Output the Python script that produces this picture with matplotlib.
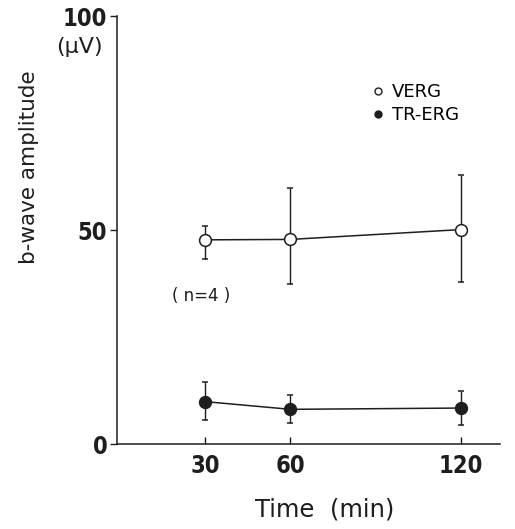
import matplotlib
matplotlib.use("Agg")
import matplotlib.pyplot as plt
from matplotlib import font_manager
from matplotlib.lines import Line2D

# data
time_min = [30, 60, 120]
verg_mean = [47.7, 47.8, 50.1]
verg_hi = [50.9, 59.7, 62.8]
verg_lo = [43.2, 37.5, 37.9]
trerg_mean = [9.9, 8.1, 8.4]
trerg_hi = [14.6, 11.4, 12.4]
trerg_lo = [5.6, 4.8, 4.4]

x_ticks = [30, 60, 120]
y_ticks = [0, 50, 100]

# narrow bold face for the numbers, if one is around
narrow = [f for f in font_manager.fontManager.ttflist
          if "narrow" in f.name.lower() or "condensed" in f.fname.lower()]
if narrow:
    bold = [f for f in narrow if "bold" in f.fname.lower()] or narrow
    TICK_PROP = font_manager.FontProperties(fname=bold[0].fname, size=17)
else:
    TICK_PROP = font_manager.FontProperties(family="DejaVu Sans", weight="bold", size=17)
INK = "#1e1e1e"

fig = plt.figure(figsize=(5.15, 5.29), dpi=100)
ax = fig.add_axes([117 / 515, 85 / 529, 383 / 515, 428 / 529])


def errs(mean, lo, hi):
    return [[m - l for m, l in zip(mean, lo)], [h - m for m, h in zip(mean, hi)]]


ax.errorbar(time_min, verg_mean, yerr=errs(verg_mean, verg_lo, verg_hi),
            color=INK, lw=1.1, elinewidth=1.0, capsize=2.5, capthick=1.0,
            marker="o", ms=8.5, mfc="white", mec=INK, mew=1.1, zorder=3)
ax.errorbar(time_min, trerg_mean, yerr=errs(trerg_mean, trerg_lo, trerg_hi),
            color=INK, lw=1.1, elinewidth=1.0, capsize=2.5, capthick=1.0,
            marker="o", ms=8.5, mfc=INK, mec=INK, mew=1.1, zorder=3)

ax.set_xlim(-1, 133.7)
ax.set_ylim(0, 100)
ax.spines["top"].set_visible(False)
ax.spines["right"].set_visible(False)
for s in ("left", "bottom"):
    ax.spines[s].set_linewidth(1.1)
    ax.spines[s].set_color(INK)

ax.set_xticks(x_ticks)
ax.set_yticks(y_ticks)
ax.set_xticklabels([str(t) for t in x_ticks], fontproperties=TICK_PROP)
ax.set_yticklabels([str(t) for t in y_ticks], fontproperties=TICK_PROP)
ax.tick_params(axis="x", direction="in", length=5, width=1.0, pad=7, colors=INK)
ax.tick_params(axis="y", direction="out", length=5, width=1.0, pad=2, colors=INK)

fig.text(325 / 515, 1 - 510 / 529, "Time  (min)", fontsize=17.5, ha="center", va="center", color=INK)
ax.set_ylabel("b-wave amplitude", fontsize=15.5, color=INK)
ax.yaxis.set_label_coords(-0.204, 0.647)

fig.text(79 / 515, 1 - 47 / 529, "(\u03bcV)", fontsize=16, ha="center", va="center", color=INK)
fig.text(172 / 515, 1 - 296 / 529, "( n=4 )", fontsize=12, va="center", color=INK)

handles = [
    Line2D([], [], ls="none", marker="o", ms=5, mfc="white", mec=INK, mew=1.0, label="VERG"),
    Line2D([], [], ls="none", marker="o", ms=5, mfc=INK, mec=INK, label="TR-ERG"),
]
ax.legend(handles=handles, loc="upper left", bbox_to_anchor=((373 - 117) / 383, (529 - 83 - 85) / 428),
          frameon=False, fontsize=13, handlelength=0.6, handletextpad=0.45,
          labelspacing=0.3, borderpad=0, borderaxespad=0)

fig.savefig("out.png", dpi=100)
